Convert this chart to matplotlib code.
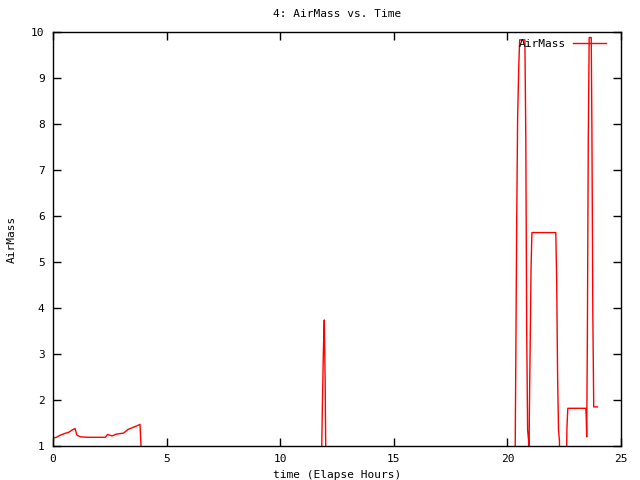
import matplotlib
matplotlib.use("Agg")
import matplotlib.pyplot as plt

title = "4: AirMass vs. Time"
xlabel = "time (Elapse Hours)"
ylabel = "AirMass"
series_name = "AirMass"

hours = [0.0, 0.15, 0.3, 0.5, 0.7, 0.85, 0.97, 1.05, 1.2, 1.5, 2.0, 2.3, 2.4, 2.6, 2.8,
         3.1, 3.3, 3.5, 3.7, 3.83, 3.92, 4.0, 11.8,
         11.85, 11.90, 11.94, 11.98, 12.02, 20.33,
         20.37, 20.41, 20.45, 20.50, 20.54, 20.77, 20.81, 20.85, 20.89, 20.93, 20.95,
         20.97, 21.01, 21.04, 21.08, 22.13, 22.17, 22.21, 22.25, 22.29, 22.33, 22.58,
         22.62, 22.66, 23.45, 23.47, 23.49, 23.52, 23.56, 23.60, 23.69, 23.72, 23.76,
         23.80, 23.96]
airmass = [1.17, 1.19, 1.23, 1.27, 1.30, 1.35, 1.38, 1.24, 1.20, 1.19, 1.19, 1.19, 1.25, 1.22, 1.26,
           1.28, 1.36, 1.40, 1.44, 1.47, 0.5, 0.0, 0.0,
           1.67, 3.05, 3.74, 2.38, 0.0, 0.0,
           2.83, 5.89, 8.11, 9.25, 9.83, 9.83, 7.72, 3.48, 1.35, 1.13, 0.5,
           1.85, 3.48, 4.85, 5.64, 5.64, 4.59, 2.51, 1.35, 1.12, 0.0, 0.0,
           1.38, 1.82, 1.82, 1.64, 1.20, 3.34, 7.69, 9.88, 9.88, 7.87, 3.87,
           1.85, 1.85]

xticks = [0, 5, 10, 15, 20, 25]
yticks = [1, 2, 3, 4, 5, 6, 7, 8, 9, 10]

plt.rcParams['font.family'] = ['DejaVu Sans Mono']
fig = plt.figure(figsize=(6.4, 4.8), dpi=100)
ax = fig.add_axes([0.0828, 0.0708, 0.8875, 0.8625])
ax.plot(hours, airmass, color='#ff0000', lw=1.0, label=series_name)
ax.set_xlim(0, 25)
ax.set_ylim(1, 10)
ax.set_xticks(xticks)
ax.set_yticks(yticks)
ax.tick_params(direction='in', length=6, width=1, top=True, right=True, labelsize=8, pad=6)
for s in ax.spines.values():
    s.set_linewidth(1)
ax.set_title(title, fontsize=8, pad=11)
ax.set_xlabel(xlabel, fontsize=8, labelpad=4)
ax.set_ylabel(ylabel, fontsize=8, labelpad=10)
leg = ax.legend(loc='upper right', bbox_to_anchor=(0.986, 1.0), frameon=False, fontsize=8,
                markerfirst=False, handlelength=3.0, borderaxespad=0.2, handletextpad=0.6)
fig.savefig("out.png", dpi=100)
